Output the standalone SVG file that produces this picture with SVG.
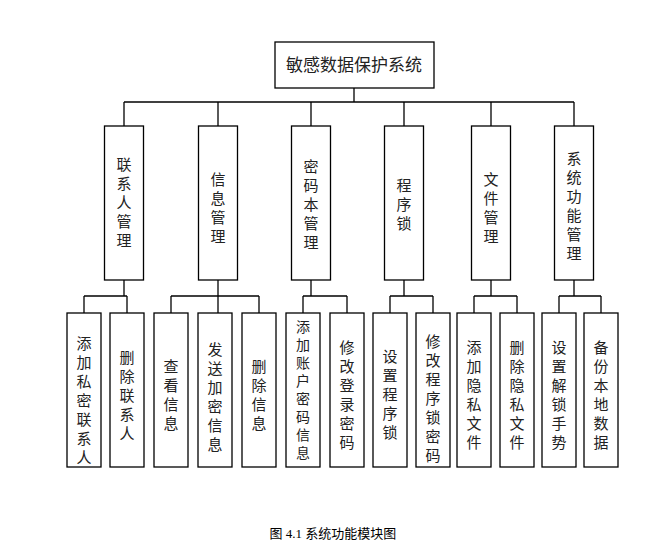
<svg xmlns="http://www.w3.org/2000/svg" width="667" height="558" viewBox="0 0 667 558">
<style>
rect{fill:#fff;stroke:#000;stroke-width:1.3}
line{stroke:#000;stroke-width:1.3}
text{font-family:"Noto Sans CJK SC",sans-serif;font-size:15px;fill:#222;text-anchor:middle}
.v{writing-mode:vertical-rl;font-size:14px;letter-spacing:4px}
.cap{font-family:"Liberation Serif","Noto Sans CJK SC",serif;font-size:13px;fill:#000}
</style>
<rect width="667" height="558" style="fill:#fff;stroke:none"/>
<g id="connectors">
<line x1="354" y1="88" x2="354" y2="102"/>
<line x1="124" y1="102" x2="574" y2="102"/>
<line x1="124" y1="102" x2="124" y2="126"/><line x1="218" y1="102" x2="218" y2="126"/><line x1="311" y1="102" x2="311" y2="126"/><line x1="404" y1="102" x2="404" y2="126"/><line x1="491" y1="102" x2="491" y2="126"/><line x1="574" y1="102" x2="574" y2="126"/>
<line x1="124" y1="280" x2="124" y2="296"/><line x1="84" y1="296" x2="127" y2="296"/><line x1="84" y1="296" x2="84" y2="313"/><line x1="127" y1="296" x2="127" y2="313"/>
<line x1="218" y1="280" x2="218" y2="296"/><line x1="171" y1="296" x2="259" y2="296"/><line x1="171" y1="296" x2="171" y2="313"/><line x1="218" y1="296" x2="218" y2="313"/><line x1="259" y1="296" x2="259" y2="313"/>
<line x1="311" y1="280" x2="311" y2="296"/><line x1="303" y1="296" x2="347" y2="296"/><line x1="303" y1="296" x2="303" y2="313"/><line x1="347" y1="296" x2="347" y2="313"/>
<line x1="404" y1="280" x2="404" y2="296"/><line x1="390" y1="296" x2="433" y2="296"/><line x1="390" y1="296" x2="390" y2="313"/><line x1="433" y1="296" x2="433" y2="313"/>
<line x1="491" y1="280" x2="491" y2="296"/><line x1="474" y1="296" x2="517" y2="296"/><line x1="474" y1="296" x2="474" y2="313"/><line x1="517" y1="296" x2="517" y2="313"/>
<line x1="574" y1="280" x2="574" y2="296"/><line x1="559" y1="296" x2="601" y2="296"/><line x1="559" y1="296" x2="559" y2="313"/><line x1="601" y1="296" x2="601" y2="313"/>
</g>
<g id="root"><rect x="275" y="42" width="159" height="46"/><text x="354" y="71" style="font-size:17px">敏感数据保护系统</text></g>
<g id="n1"><rect x="104.5" y="126" width="39" height="154"/><text x="124" y="170">联</text><text x="124" y="189">系</text><text x="124" y="208">人</text><text x="124" y="227">管</text><text x="124" y="246">理</text></g>
<g id="n2"><rect x="198.5" y="126" width="39" height="154"/><text x="218" y="185">信</text><text x="218" y="204">息</text><text x="218" y="223">管</text><text x="218" y="242">理</text></g>
<g id="n3"><rect x="291.5" y="126" width="39" height="154"/><text x="311" y="172">密</text><text x="311" y="191">码</text><text x="311" y="210">本</text><text x="311" y="229">管</text><text x="311" y="248">理</text></g>
<g id="n4"><rect x="384.5" y="126" width="39" height="154"/><text x="404" y="191">程</text><text x="404" y="210">序</text><text x="404" y="229">锁</text></g>
<g id="n5"><rect x="471.5" y="126" width="39" height="154"/><text x="491" y="185">文</text><text x="491" y="204">件</text><text x="491" y="223">管</text><text x="491" y="242">理</text></g>
<g id="n6"><rect x="554.5" y="126" width="39" height="154"/><text x="574" y="164">系</text><text x="574" y="183">统</text><text x="574" y="202">功</text><text x="574" y="221">能</text><text x="574" y="240">管</text><text x="574" y="259">理</text></g>
<g id="l1"><rect x="67" y="313" width="34" height="154"/><text x="84" y="349">添</text><text x="84" y="368">加</text><text x="84" y="387">私</text><text x="84" y="406">密</text><text x="84" y="425">联</text><text x="84" y="444">系</text><text x="84" y="463">人</text></g>
<g id="l2"><rect x="110" y="313" width="34" height="154"/><text x="127" y="363">删</text><text x="127" y="382">除</text><text x="127" y="401">联</text><text x="127" y="420">系</text><text x="127" y="439">人</text></g>
<g id="l3"><rect x="154" y="313" width="34" height="154"/><text x="171" y="372">查</text><text x="171" y="391">看</text><text x="171" y="410">信</text><text x="171" y="429">息</text></g>
<g id="l4"><rect x="198" y="313" width="34" height="154"/><text x="215" y="355">发</text><text x="215" y="374">送</text><text x="215" y="393">加</text><text x="215" y="412">密</text><text x="215" y="431">信</text><text x="215" y="450">息</text></g>
<g id="l5"><rect x="242" y="313" width="34" height="154"/><text x="259" y="372">删</text><text x="259" y="391">除</text><text x="259" y="410">信</text><text x="259" y="429">息</text></g>
<g id="l6"><rect x="286" y="313" width="34" height="154"/><text class="v" x="303" y="392">添加账户密码信息</text></g>
<g id="l7"><rect x="330" y="313" width="34" height="154"/><text x="347" y="353">修</text><text x="347" y="372">改</text><text x="347" y="391">登</text><text x="347" y="410">录</text><text x="347" y="429">密</text><text x="347" y="448">码</text></g>
<g id="l8"><rect x="373" y="313" width="34" height="154"/><text x="390" y="362">设</text><text x="390" y="381">置</text><text x="390" y="400">程</text><text x="390" y="419">序</text><text x="390" y="438">锁</text></g>
<g id="l9"><rect x="416" y="313" width="34" height="154"/><text x="433" y="347">修</text><text x="433" y="366">改</text><text x="433" y="385">程</text><text x="433" y="404">序</text><text x="433" y="423">锁</text><text x="433" y="442">密</text><text x="433" y="461">码</text></g>
<g id="l10"><rect x="457" y="313" width="34" height="154"/><text x="474" y="353">添</text><text x="474" y="372">加</text><text x="474" y="391">隐</text><text x="474" y="410">私</text><text x="474" y="429">文</text><text x="474" y="448">件</text></g>
<g id="l11"><rect x="500" y="313" width="34" height="154"/><text x="517" y="353">删</text><text x="517" y="372">除</text><text x="517" y="391">隐</text><text x="517" y="410">私</text><text x="517" y="429">文</text><text x="517" y="448">件</text></g>
<g id="l12"><rect x="542" y="313" width="34" height="154"/><text x="559" y="353">设</text><text x="559" y="372">置</text><text x="559" y="391">解</text><text x="559" y="410">锁</text><text x="559" y="429">手</text><text x="559" y="448">势</text></g>
<g id="l13"><rect x="584" y="313" width="34" height="154"/><text x="601" y="353">备</text><text x="601" y="372">份</text><text x="601" y="391">本</text><text x="601" y="410">地</text><text x="601" y="429">数</text><text x="601" y="448">据</text></g>
<text class="cap" x="333" y="538">图 4.1 系统功能模块图</text>
</svg>
